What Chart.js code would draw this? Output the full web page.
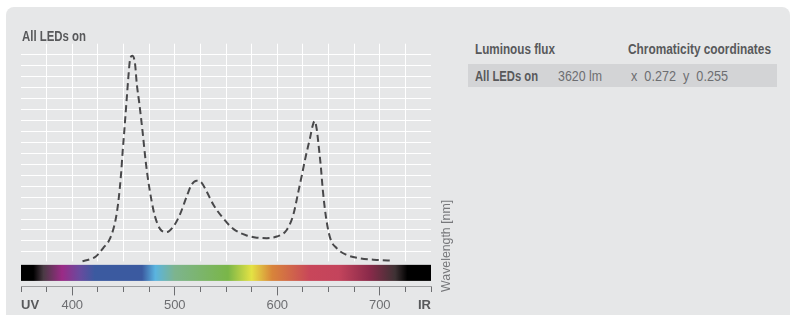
<!DOCTYPE html>
<html>
<head>
<meta charset="utf-8">
<script src="https://cdn.jsdelivr.net/npm/chart.js@4.4.1/dist/chart.umd.min.js"></script>
<style>
  body { margin: 0; background: #fff; width: 794px; height: 315px; overflow: hidden;
         font-family: 'Liberation Sans', Arial, sans-serif; }
  .panel { position: absolute; left: 6px; top: 7px; width: 784px; height: 330px;
           border-radius: 8px; background: #e6e7e8; }
  .chartBox { position: absolute; left: 0; top: 0; width: 454px; height: 308px; }
  .t { position: absolute; font-size: 14px; color: #58595b; white-space: pre; line-height: 16px;
       transform-origin: 0 0; }
  .b { font-weight: bold; }
  .row { position: absolute; left: 462px; top: 57px; width: 309px; height: 23px; background: #d3d4d6; }
</style>
</head>
<body>
<div class="panel">
  <div class="chartBox"><canvas id="myChart"></canvas></div>
  <div class="t b" id="chartTitle" data-w="64" style="left:16px; top:21px;"></div>
  <div class="t b" data-w="80" style="left:469px; top:34px;">Luminous flux</div>
  <div class="t b" data-w="143" style="left:622px; top:34px;">Chromaticity coordinates</div>
  <div class="row"></div>
  <div class="t b" data-w="63" style="left:469px; top:61px;">All LEDs on</div>
  <div class="t" data-w="44" style="left:552px; top:61px; color:#6d6e71;">3620 lm</div>
  <div class="t" data-w="97" style="left:625px; top:61px; color:#6d6e71;">x  0.272  y  0.255</div>
</div>
<script>
const title = 'All LEDs on';
const axisTitle = 'Wavelength [nm]';

// spectrum
const wavelengths = [410, 418, 423, 430, 437, 442, 445, 447.6, 449.2, 450.5, 453, 454.7, 456.3, 458.6,
  461.2, 463, 465.5, 468.7, 471.6, 474.2, 477.5, 480.7, 485.6, 492, 498.6, 505, 511.7, 516.5, 521.4,
  526.3, 531.2, 537.7, 545.8, 557.1, 570.2, 580, 589.7, 599.5, 609.2, 615.7, 620.6, 624, 628, 632,
  634.5, 636.5, 638.5, 640.5, 642.5, 644.5, 647.5, 651.5, 658, 667.8, 680.7, 697, 713];
const intensity = [0.15, 0.35, 0.57, 1.33, 2.25, 3.8, 5.6, 8.1, 10.2, 11.7, 14.8, 16.9, 18.5, 18.9,
  18.2, 16.3, 14.5, 11.9, 9.3, 7.45, 5.6, 4.24, 3.1, 2.8, 3.3, 4.4, 6.07, 7.15, 7.5,
  7.3, 6.5, 5.3, 4.24, 3.1, 2.5, 2.3, 2.25, 2.4, 3.0, 4.4, 6.5, 8.0, 9.8, 11.4,
  12.5, 12.95, 12.2, 10.6, 8.8, 6.6, 4.2, 2.3, 1.33, 0.72, 0.41, 0.27, 0.2];

// x ticks: 350..750 every 25 nm
const tickLabels = { 350: 'UV', 400: '400', 500: '500', 600: '600', 700: '700', 750: 'IR' };

// colour strip under the plot
const stripNm = [350, 362, 372, 390, 407, 422, 468, 481, 500, 552, 575, 595, 632, 660, 690, 715, 727, 750];
const stripColors = ['#000000', '#000000', '#4a3a44', '#9b2a86', '#6a4a9e', '#3b5aa0', '#3b5aa0', '#5ab4e0',
  '#7db48e', '#7ab648', '#e4e244', '#d8843a', '#c8465a', '#c4445c', '#8a2a4a', '#3e3234', '#000000', '#000000'];

const fontFamily = "'Liberation Sans', Arial, sans-serif";

const stripPlugin = {
  id: 'strip',
  beforeDatasetsDraw(chart) {
    const { ctx, chartArea, scales } = chart;
    const x = scales.x, y = scales.y;
    const top = y.getPixelForValue(0) - 1.5;
    ctx.save();
    // hide grid between plot and axis
    ctx.fillStyle = '#e6e7e8';
    ctx.fillRect(chartArea.left - 1, top, chartArea.right - chartArea.left + 2, chartArea.bottom - top);
    const g = ctx.createLinearGradient(x.getPixelForValue(350), 0, x.getPixelForValue(750), 0);
    stripNm.forEach((nm, i) => g.addColorStop((nm - 350) / 400, stripColors[i]));
    ctx.fillStyle = g;
    ctx.fillRect(chartArea.left, top + 3.5, chartArea.right - chartArea.left, chartArea.bottom - top - 9);
    ctx.restore();
  },
  afterDraw(chart) {
    const { ctx, chartArea } = chart;
    ctx.save();
    ctx.translate(chartArea.right + 18.5, chartArea.bottom + 5.5);
    ctx.rotate(-Math.PI / 2);
    ctx.font = '13px ' + fontFamily;
    const w = ctx.measureText(axisTitle).width;
    ctx.scale(92 / w, 1);
    ctx.fillStyle = '#77787b';
    ctx.textAlign = 'left';
    ctx.fillText(axisTitle, 0, 0);
    ctx.restore();
  }
};

Chart.defaults.font.family = fontFamily;

new Chart(document.getElementById('myChart'), {
  type: 'line',
  data: {
    datasets: [{
      data: wavelengths.map((w, i) => ({ x: w, y: intensity[i] })),
      borderColor: '#48484a',
      borderWidth: 2,
      borderDash: [7, 4],
      pointRadius: 0,
      cubicInterpolationMode: 'monotone',
      fill: false
    }]
  },
  plugins: [stripPlugin],
  options: {
    responsive: true,
    maintainAspectRatio: false,
    animation: false,
    layout: { padding: { left: 15, right: 29, top: 36.7, bottom: 0 } },
    plugins: {
      legend: { display: false },
      tooltip: { enabled: false },
      title: { display: false }
    },
    scales: {
      x: {
        type: 'linear',
        min: 350,
        max: 750,
        grid: {
          color: c => (c.tick && c.tick.value > 350 && c.tick.value < 750) ? '#ffffff' : 'rgba(0,0,0,0)',
          lineWidth: 1,
          tickLength: 9,
          tickColor: '#6d6e71',
          tickBorderDash: c => (c.tick && c.tick.value % 100 === 0) ? [] : [5, 30]
        },
        border: { display: true, color: '#6d6e71', width: 1 },
        ticks: {
          stepSize: 25,
          autoSkip: false,
          maxRotation: 0,
          align: 'inner',
          padding: 2,
          color: c => (c.tick && (c.tick.value === 350 || c.tick.value === 750)) ? '#58595b' : '#6d6e71',
          font: c => ({ size: 13, weight: (c.tick && (c.tick.value === 350 || c.tick.value === 750)) ? 'bold' : 'normal' }),
          callback: v => tickLabels[v] || ''
        }
      },
      y: {
        min: -2.15,
        max: 20,
        grid: {
          color: c => (c.tick && c.tick.value >= 1 && c.tick.value <= 19) ? '#ffffff' : 'rgba(0,0,0,0)',
          lineWidth: 1,
          drawTicks: false
        },
        border: { display: false },
        ticks: { display: false, stepSize: 1 }
      }
    }
  }
});

// squeeze the html labels to the narrow type of the original
document.getElementById('chartTitle').textContent = title;
document.querySelectorAll('.t[data-w]').forEach(el => {
  const w = el.getBoundingClientRect().width;
  el.style.transform = 'scaleX(' + (Number(el.dataset.w) / w) + ')';
});
</script>
</body>
</html>
